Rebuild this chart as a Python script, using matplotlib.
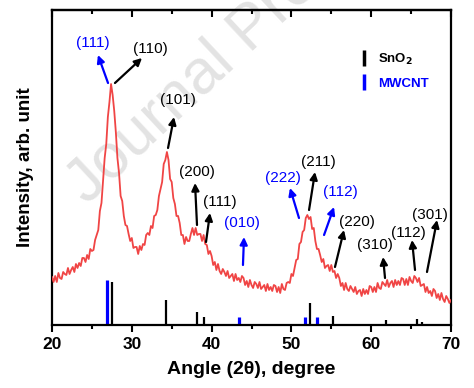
import numpy as np
import matplotlib.pyplot as plt
from matplotlib.lines import Line2D
from matplotlib.ticker import MultipleLocator

plt.rcParams['font.family'] = ['Liberation Sans', 'DejaVu Sans']

# XRD-Muster (2theta von 20 bis 70 Grad, Schritt 0.2)
two_theta = np.linspace(20, 70, 251)
intensity = [
    48, 43, 49, 43, 52, 47, 46, 53, 51, 50,
    57, 51, 55, 58, 53, 61, 57, 62, 59, 67,
    67, 63, 70, 66, 76, 74, 75, 85, 90, 95,
    114, 122, 145, 167, 181, 208, 223, 241, 230, 214,
    193, 167, 152, 129, 124, 109, 100, 99, 91, 84,
    87, 77, 78, 78, 71, 79, 75, 81, 80, 90,
    92, 90, 99, 97, 109, 110, 115, 129, 136, 143,
    161, 165, 173, 165, 146, 143, 127, 121, 109, 109,
    102, 90, 90, 81, 88, 84, 84, 91, 97, 90,
    97, 90, 91, 91, 84, 90, 81, 80, 71, 74,
    69, 60, 63, 55, 61, 54, 51, 56, 53, 49,
    54, 47, 49, 51, 44, 51, 45, 47, 43, 49,
    47, 40, 44, 38, 45, 40, 37, 43, 41, 37,
    43, 36, 38, 40, 34, 41, 35, 38, 34, 40,
    39, 33, 38, 32, 41, 36, 35, 42, 43, 42,
    51, 49, 57, 65, 66, 81, 83, 93, 95, 107,
    110, 106, 108, 96, 97, 84, 76, 76, 70, 63,
    66, 57, 59, 60, 54, 60, 53, 54, 47, 51,
    47, 39, 42, 35, 42, 36, 34, 39, 36, 33,
    38, 31, 34, 35, 29, 36, 31, 35, 31, 39,
    38, 33, 38, 33, 42, 37, 36, 43, 41, 39,
    45, 38, 42, 44, 38, 45, 40, 44, 40, 47,
    46, 40, 46, 40, 48, 44, 42, 49, 47, 43,
    47, 39, 40, 41, 33, 38, 32, 34, 29, 36,
    34, 27, 31, 25, 32, 26, 23, 29, 26, 22,
    25,
]

# Referenzlinien
sno2_pos = [27.5, 34.3, 38.2, 39.1, 52.3, 55.2, 61.9, 65.7, 66.4]
sno2_height = [43, 25, 13, 8, 22, 9, 5, 6, 3]
cnt_pos = [26.9, 43.4, 51.7, 53.2]
cnt_height = [45, 8, 8, 8]

# Beschriftungen: Text, Textposition, Pfeilanfang, Pfeilspitze, Farbe
labels = ['(111)', '(110)', '(101)', '(200)', '(111)', '(010)', '(222)',
          '(211)', '(112)', '(220)', '(310)', '(112)', '(301)']
label_xy = [(25.14, 282), (32.28, 276), (35.79, 225), (38.17, 153), (41.05, 123),
            (43.81, 102), (48.95, 147), (53.33, 163), (56.09, 133), (58.22, 103),
            (60.48, 80), (64.61, 92), (67.37, 110)]
arrow_tail = [(27.02, 242), (27.89, 242), (34.54, 177), (38.17, 100), (39.30, 83),
              (43.93, 60), (50.95, 107), (52.21, 115), (54.09, 90), (55.46, 58),
              (61.73, 47), (65.49, 55), (66.99, 53)]
arrow_head = [(25.76, 270), (31.28, 267), (35.29, 208), (37.92, 142), (39.80, 112),
              (44.06, 88), (49.82, 137), (52.96, 153), (55.34, 118), (56.59, 95),
              (61.48, 68), (65.11, 85), (68.25, 105)]
label_colors = ['blue', 'black', 'black', 'black', 'black', 'blue', 'blue',
                'black', 'blue', 'black', 'black', 'black', 'black']

fig = plt.figure(figsize=(4.74, 3.88), dpi=100)
ax = fig.add_axes([0.1097, 0.1624, 0.8418, 0.8118])
ax.set_zorder(1)

# Wasserzeichen (hinter den Achsen)
fig.text(87 / 474, 1 - 205 / 388, 'Journal Pre-proof', fontsize=45, color='#e3e3e3',
         rotation=43, rotation_mode='anchor', ha='left', va='baseline', zorder=0)

ax.plot(two_theta, intensity, color='#f04545', lw=1.3, zorder=3)
ax.vlines(sno2_pos, 0, sno2_height, color='black', lw=1.6, zorder=2)
ax.vlines(cnt_pos, 0, cnt_height, color='blue', lw=2.3, zorder=2)

for lab, txy, tail, head, col in zip(labels, label_xy, arrow_tail, arrow_head, label_colors):
    ax.annotate('', xy=head, xytext=tail,
                arrowprops=dict(arrowstyle='-|>', color=col, lw=1.6,
                                mutation_scale=11, shrinkA=0, shrinkB=0))
    ax.text(txy[0], txy[1], lab, color=col, fontsize=11, ha='center', va='center')

ax.set_xlim(20, 70)
ax.set_ylim(0, 315)
ax.set_facecolor('none')
ax.xaxis.set_major_locator(MultipleLocator(10))
ax.xaxis.set_minor_locator(MultipleLocator(5))
ax.set_yticks([])
ax.tick_params(axis='x', which='major', direction='out', length=5, width=1.5,
               labelsize=12.5, pad=4)
ax.tick_params(axis='x', which='minor', direction='out', length=3, width=1.5)
for lab in ax.get_xticklabels():
    lab.set_fontweight('bold')
for sp in ax.spines.values():
    sp.set_linewidth(1.6)

top = ax.secondary_xaxis('top')
top.xaxis.set_major_locator(MultipleLocator(10))
top.xaxis.set_minor_locator(MultipleLocator(5))
top.tick_params(which='major', direction='in', length=5, width=1.5, labeltop=False)
top.tick_params(which='minor', direction='in', length=3, width=1.5)
top.spines['top'].set_linewidth(1.6)

ax.set_xlabel('Angle (2\u03b8), degree', fontsize=14, fontweight='bold', labelpad=6)
ax.set_ylabel('Intensity, arb. unit', fontsize=13.5, fontweight='bold', labelpad=13)

handles = [Line2D([], [], color='black', marker='|', ls='none', markersize=12, mew=2.5),
           Line2D([], [], color='blue', marker='|', ls='none', markersize=12, mew=2.5)]
leg = ax.legend(handles, ['SnO$_\\mathbf{2}$', 'MWCNT'], loc='upper left',
                bbox_to_anchor=(0.735, 0.905), frameon=False, handlelength=1.0,
                handletextpad=0.6, labelspacing=0.8,
                prop={'weight': 'bold', 'size': 9.5})
leg.get_texts()[1].set_color('blue')

fig.savefig('out.png', dpi=100)
